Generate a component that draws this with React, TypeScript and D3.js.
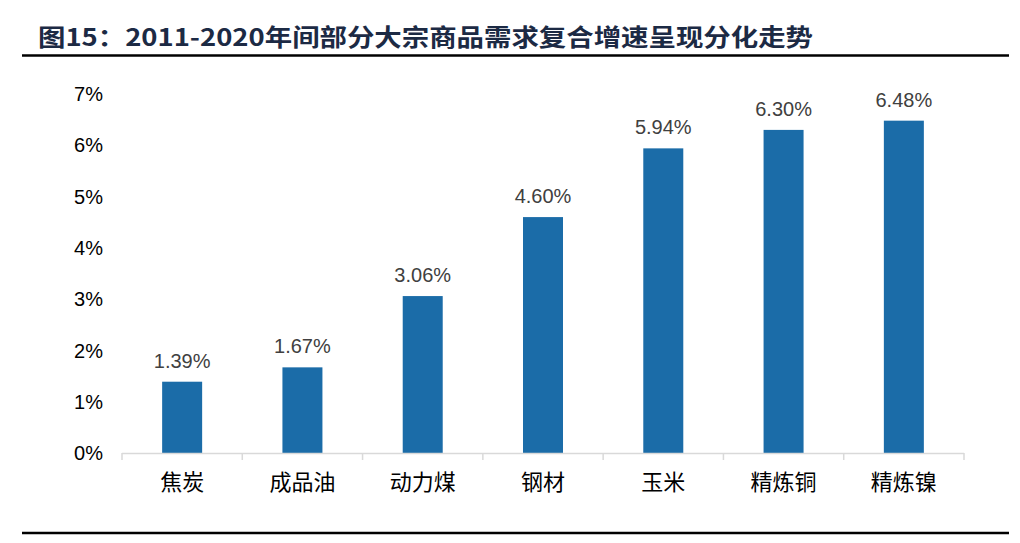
import { useEffect, useRef } from 'react';
import * as d3 from 'd3';

const categories = ['焦炭', '成品油', '动力煤', '钢材', '玉米', '精炼铜', '精炼镍'];
const growth = [1.39, 1.67, 3.06, 4.6, 5.94, 6.3, 6.48];
const yTicks = [0, 1, 2, 3, 4, 5, 6, 7];

const title = '图15：2011-2020年间部分大宗商品需求复合增速呈现分化走势';

export default function App() {
    const ref = useRef<SVGSVGElement>(null);

    useEffect(() => {
        if (!ref.current) return;
        const svg = d3.select(ref.current);
        svg.selectAll('*').remove();

        const width = 1020;
        const height = 543;

        svg.append('rect').attr('width', width).attr('height', height).attr('fill', '#fff');

        // title + rules
        svg.append('text')
            .attr('x', 38)
            .attr('y', 46)
            .attr('fill', '#1c2a44')
            .attr('font-family', '"Noto Sans CJK SC", sans-serif')
            .attr('font-size', '24px')
            .attr('font-weight', 700)
            .attr('textLength', 775)
            .attr('lengthAdjust', 'spacingAndGlyphs')
            .text(title);

        svg.append('line')
            .attr('x1', 22).attr('x2', 1009)
            .attr('y1', 55.5).attr('y2', 55.5)
            .attr('stroke', '#000').attr('stroke-width', 2.5);

        svg.append('line')
            .attr('x1', 22).attr('x2', 1009)
            .attr('y1', 533).attr('y2', 533)
            .attr('stroke', '#000').attr('stroke-width', 2.5);

        const x = d3.scaleBand<string>()
            .domain(categories)
            .range([122, 964])
            .paddingInner(0)
            .paddingOuter(0);

        const y = d3.scaleLinear().domain([0, 7]).range([453, 94]);

        const barW = 40;
        const g = svg.append('g');

        // y tick labels
        g.selectAll('.ytick')
            .data(yTicks)
            .enter()
            .append('text')
            .attr('x', 103)
            .attr('y', d => y(d))
            .attr('dy', '0.36em')
            .attr('text-anchor', 'end')
            .attr('fill', '#000')
            .attr('font-family', '"Liberation Sans", Arial, sans-serif')
            .attr('font-size', '20px')
            .text(d => `${d}%`);

        // bars
        g.selectAll('.bar')
            .data(growth)
            .enter()
            .append('rect')
            .attr('x', (_, i) => (x(categories[i]) as number) + x.bandwidth() / 2 - barW / 2)
            .attr('y', d => y(d))
            .attr('width', barW)
            .attr('height', d => y(0) - y(d))
            .attr('fill', '#1b6ca8');

        // value labels
        g.selectAll('.val')
            .data(growth)
            .enter()
            .append('text')
            .attr('x', (_, i) => (x(categories[i]) as number) + x.bandwidth() / 2)
            .attr('y', d => y(d) - 14)
            .attr('text-anchor', 'middle')
            .attr('fill', '#404040')
            .attr('font-family', '"Liberation Sans", Arial, sans-serif')
            .attr('font-size', '20px')
            .text(d => `${d.toFixed(2)}%`);

        // x axis
        g.append('line')
            .attr('x1', 122).attr('x2', 964)
            .attr('y1', 453.5).attr('y2', 453.5)
            .attr('stroke', '#d9d9d9').attr('stroke-width', 1.5);

        const bounds = categories.map(c => x(c) as number).concat([964]);
        g.selectAll('.tick')
            .data(bounds)
            .enter()
            .append('line')
            .attr('x1', d => d).attr('x2', d => d)
            .attr('y1', 453).attr('y2', 460)
            .attr('stroke', '#d9d9d9').attr('stroke-width', 1.5);

        g.selectAll('.cat')
            .data(categories)
            .enter()
            .append('text')
            .attr('x', d => (x(d) as number) + x.bandwidth() / 2)
            .attr('y', 490)
            .attr('text-anchor', 'middle')
            .attr('fill', '#000')
            .attr('font-family', '"Noto Sans CJK SC", sans-serif')
            .attr('font-size', '22px')
            .text(d => d);
    }, []);

    return (
        <div style={{ margin: -8 }}>
            <svg ref={ref} width={1020} height={543} style={{ display: 'block' }} />
        </div>
    );
}
